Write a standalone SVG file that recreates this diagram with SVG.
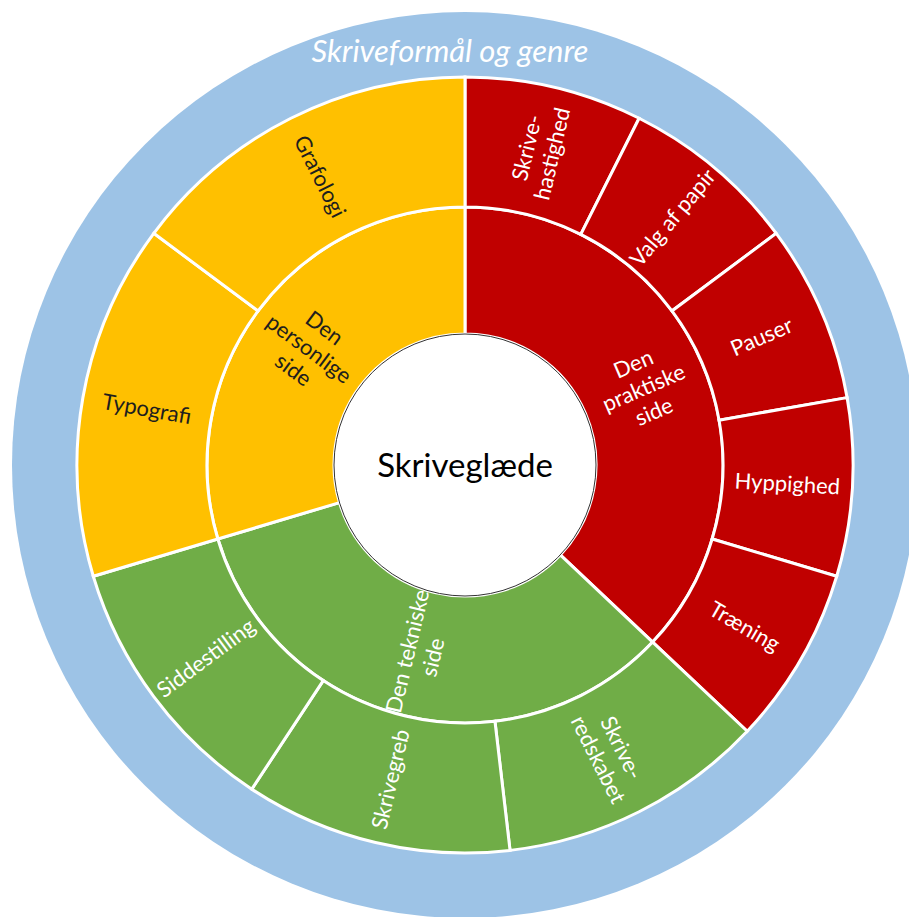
<svg xmlns="http://www.w3.org/2000/svg" width="909" height="917" viewBox="0 0 909 917">
<style>
.seg{stroke:#fff;stroke-width:3;stroke-linejoin:miter}
.red{fill:#C00000}.grn{fill:#70AD47}.yel{fill:#FFC000}
.lbl{font-family:Lato,"Open Sans",sans-serif;font-size:22px;text-anchor:middle}
.w{fill:#fff}.k{fill:#1e1e1e}
</style>
<rect width="909" height="917" fill="#fff"/>
<g id="ring-genre">
<circle cx="465" cy="465" r="453" fill="#9DC3E6"/>
<text x="450" y="62" fill="#fff" font-family="Lato,'Open Sans',sans-serif" font-size="31" font-style="italic" text-anchor="middle">Skriveformål og genre</text>
</g>
<g id="connectors"></g>
<g id="praktiske">
<path class="seg red" d="M465,207 A258,258 0 0,1 652.66,642.05 L560.29,554.90 A131,131 0 0,0 465,334 Z"/>
<text class="lbl w" transform="translate(643.58,387.75) rotate(-23.33)"><tspan x="0" y="-18.3">Den</tspan><tspan x="0" y="7.7">praktiske</tspan><tspan x="0" y="33.7">side</tspan></text>
</g>
<g id="tekniske">
<path class="seg grn" d="M652.66,642.05 A258,258 0 0,1 217.83,538.99 L339.50,502.57 A131,131 0 0,0 560.29,554.90 Z"/>
<text class="lbl w" transform="translate(420.15,654.26) rotate(-76.67)"><tspan x="0" y="-5.3">Den tekniske</tspan><tspan x="0" y="20.7">side</tspan></text>
</g>
<g id="personlige">
<path class="seg yel" d="M217.83,538.99 A258,258 0 0,1 465,207 L465,334 A131,131 0 0,0 339.50,502.57 Z"/>
<text class="lbl k" transform="translate(308.99,348.85) rotate(36.67)"><tspan x="0" y="-18.3">Den</tspan><tspan x="0" y="7.7">personlige</tspan><tspan x="0" y="33.7">side</tspan></text>
</g>
<g id="skrivehastighed">
<path class="seg red" d="M465,77 A388,388 0 0,1 639.13,118.27 L580.79,234.44 A258,258 0 0,0 465,207 Z"/>
<text class="lbl w" transform="translate(539.49,150.71) rotate(-76.67)"><tspan x="0" y="-5.3">Skrive-</tspan><tspan x="0" y="20.7">hastighed</tspan></text>
</g>
<g id="valg-af-papir">
<path class="seg red" d="M639.13,118.27 A388,388 0 0,1 776.22,233.30 L671.95,310.93 A258,258 0 0,0 580.79,234.44 Z"/>
<text class="lbl w" transform="translate(672.62,217.57) rotate(-50)" y="7.7">Valg af papir</text>
</g>
<g id="pauser">
<path class="seg red" d="M776.22,233.30 A388,388 0 0,1 847.11,397.62 L719.08,420.20 A258,258 0 0,0 671.95,310.93 Z"/>
<text class="lbl w" transform="translate(761.57,336.72) rotate(-23.33)" y="7.7">Pauser</text>
</g>
<g id="hyppighed">
<path class="seg red" d="M847.11,397.62 A388,388 0 0,1 836.72,576.28 L712.17,538.99 A258,258 0 0,0 719.08,420.20 Z"/>
<text class="lbl w" transform="translate(787.45,483.78) rotate(3.33)" y="7.7">Hyppighed</text>
</g>
<g id="traening">
<path class="seg red" d="M836.72,576.28 A388,388 0 0,1 747.22,731.26 L652.66,642.05 A258,258 0 0,0 712.17,538.99 Z"/>
<text class="lbl w" transform="translate(744.73,626.5) rotate(30)" y="7.7">Træning</text>
</g>
<g id="skriveredskabet">
<path class="seg grn" d="M747.22,731.26 A388,388 0 0,1 510.04,850.38 L494.95,721.26 A258,258 0 0,0 652.66,642.05 Z"/>
<text class="lbl w" transform="translate(609.96,753.64) rotate(63.33)"><tspan x="0" y="-5.3">Skrive-</tspan><tspan x="0" y="20.7">redskabet</tspan></text>
</g>
<g id="skrivegreb">
<path class="seg grn" d="M510.04,850.38 A388,388 0 0,1 251.79,789.17 L323.23,680.56 A258,258 0 0,0 494.95,721.26 Z"/>
<text class="lbl w" transform="translate(390.51,779.29) rotate(-76.67)" y="7.7">Skrivegreb</text>
</g>
<g id="siddestilling">
<path class="seg grn" d="M251.79,789.17 A388,388 0 0,1 93.28,576.28 L217.83,538.99 A258,258 0 0,0 323.23,680.56 Z"/>
<text class="lbl w" transform="translate(205.92,657.88) rotate(-36.67)" y="7.7">Siddestilling</text>
</g>
<g id="typografi">
<path class="seg yel" d="M93.28,576.28 A388,388 0 0,1 153.78,233.30 L258.05,310.93 A258,258 0 0,0 217.83,538.99 Z"/>
<text class="lbl k" transform="translate(146.91,408.91) rotate(10)" y="7.7">Typografi</text>
</g>
<g id="grafologi">
<path class="seg yel" d="M153.78,233.30 A388,388 0 0,1 465,77 L465,207 A258,258 0 0,0 258.05,310.93 Z"/>
<text class="lbl k" transform="translate(320.04,176.36) rotate(63.33)" y="7.7">Grafologi</text>
</g>
<g id="skriveglaede">
<circle cx="465" cy="465" r="131" fill="#fff" stroke="#333" stroke-width="1"/>
<text x="465" y="477" font-family="Lato,'Open Sans',sans-serif" font-size="33" text-anchor="middle" fill="#000">Skriveglæde</text>
</g>
</svg>
